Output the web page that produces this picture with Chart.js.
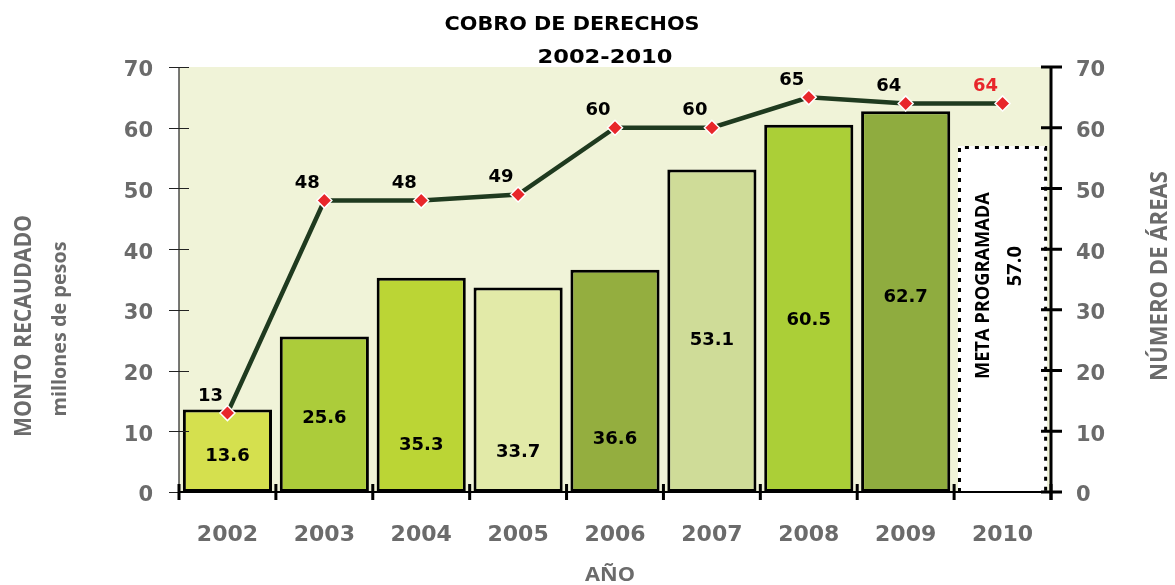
<!DOCTYPE html>
<html>
<head>
<meta charset="utf-8">
<script src="https://cdn.jsdelivr.net/npm/chart.js@4.4.0/dist/chart.umd.min.js"></script>
<style>
html,body{margin:0;padding:0;background:#fff;}
#wrap{width:1175px;height:585px;position:relative;}
</style>
</head>
<body>
<div id="wrap"><canvas id="c" width="1175" height="585"></canvas></div>
<script>
// ---- data ----
const years = ['2002','2003','2004','2005','2006','2007','2008','2009','2010'];
const montoRecaudado = [13.6, 25.6, 35.3, 33.7, 36.6, 53.1, 60.5, 62.7, 57.0];
const numeroAreas = [13, 48, 48, 49, 60, 60, 65, 64, 64];
const yTicks = [0, 10, 20, 30, 40, 50, 60, 70];
const titleLines = ['COBRO DE DERECHOS', '2002-2010'];
const metaText = 'META PROGRAMADA';

// ---- styles ----
const barColors = ['#D5E04E','#ACCC3A','#BBD535','#E2EAA8','#94AE3F','#CFDC98','#ABCF37','#8FAC3F','#FFFFFF'];
const barLabelHeight = [5.8, 12.2, 7.7, 6.6, 8.6, 25, 28.3, 32, null]; // label anchor in data units
const GRAY = '#6B6B6B';

function fitText(ctx, text, x, y, targetW, font, color, rot) {
  ctx.save();
  ctx.font = font;
  ctx.fillStyle = color;
  ctx.textAlign = 'center';
  ctx.textBaseline = 'middle';
  const w = ctx.measureText(text).width;
  ctx.translate(x, y);
  if (rot) ctx.rotate(rot);
  ctx.scale(targetW / w, 1);
  ctx.fillText(text, 0, 0);
  ctx.restore();
}

const decor = {
  id: 'decor',
  beforeDatasetsDraw(chart) {
    const {ctx, chartArea: a} = chart;
    ctx.save();
    ctx.fillStyle = '#F0F3D8';
    ctx.fillRect(a.left, a.top, a.right - a.left, a.bottom - a.top);
    ctx.restore();
  },
  afterDatasetsDraw(chart) {
    const {ctx, chartArea: a, scales} = chart;
    const ys = scales.y, xs = scales.x;
    // dashed border for 2010 bar
    const barMeta = chart.getDatasetMeta(1);
    const el = barMeta.data[8];
    ctx.save();
    ctx.strokeStyle = '#000';
    ctx.lineWidth = 3;
    ctx.setLineDash([4, 6]);
    const l = el.x - el.width / 2 + 1.5, r = el.x + el.width / 2 - 1.5;
    ctx.beginPath();
    ctx.moveTo(l, el.base);
    ctx.lineTo(l, el.y + 1.5);
    ctx.lineTo(r, el.y + 1.5);
    ctx.lineTo(r, el.base);
    ctx.stroke();
    ctx.restore();

    // axes
    ctx.save();
    ctx.strokeStyle = '#222';
    ctx.lineWidth = 1.2;
    ctx.beginPath();
    ctx.moveTo(a.left, a.top); ctx.lineTo(a.left, a.bottom);
    yTicks.forEach(v => { const y = Math.round(ys.getPixelForValue(v)) + 0.5; ctx.moveTo(a.left - 10, y); ctx.lineTo(a.left + 10, y); });
    ctx.stroke();
    ctx.strokeStyle = '#000';
    ctx.lineWidth = 3;
    ctx.beginPath();
    ctx.moveTo(a.right, a.top); ctx.lineTo(a.right, a.bottom + 8);
    yTicks.forEach(v => { const y = ys.getPixelForValue(v); ctx.moveTo(a.right - 10, y); ctx.lineTo(a.right + 11, y); });
    ctx.stroke();
    ctx.lineWidth = 2;
    ctx.beginPath();
    ctx.moveTo(a.left, a.bottom); ctx.lineTo(a.right, a.bottom);
    ctx.stroke();
    ctx.lineWidth = 3;
    ctx.beginPath();
    for (let i = 0; i <= years.length; i++) {
      const x = i < years.length ? xs.getPixelForValue(i) - (xs.getPixelForValue(1) - xs.getPixelForValue(0)) / 2 : a.right;
      ctx.moveTo(x, a.bottom - 8); ctx.lineTo(x, a.bottom + 8);
    }
    ctx.stroke();
    ctx.restore();

    // bar labels
    ctx.save();
    ctx.font = 'bold 18px "DejaVu Sans"';
    ctx.fillStyle = '#000';
    ctx.textAlign = 'center';
    ctx.textBaseline = 'middle';
    barMeta.data.forEach((b, i) => {
      if (barLabelHeight[i] == null) return;
      ctx.fillText(montoRecaudado[i].toFixed(1), b.x, ys.getPixelForValue(barLabelHeight[i]));
    });
    ctx.restore();
    const b10 = barMeta.data[8];
    fitText(ctx, metaText, b10.x - 19, ys.getPixelForValue(34), 187, 'bold 20px "Open Sans"', '#000', -Math.PI / 2);
    fitText(ctx, montoRecaudado[8].toFixed(1), b10.x + 13, ys.getPixelForValue(37.2), 40, 'bold 20px "Open Sans"', '#000', -Math.PI / 2);

    // line labels
    const lineMeta = chart.getDatasetMeta(0);
    ctx.save();
    ctx.font = 'bold 18px "DejaVu Sans"';
    ctx.textAlign = 'center';
    ctx.textBaseline = 'middle';
    lineMeta.data.forEach((p, i) => {
      ctx.fillStyle = i === years.length - 1 ? '#E8262B' : '#000';
      ctx.fillText(String(numeroAreas[i]), p.x - 17, p.y - 17);
    });
    ctx.restore();
  },
  afterDraw(chart) {
    const {ctx} = chart;
    fitText(ctx, titleLines[0], 572, 25, 255, 'bold 20px "DejaVu Sans"', '#000');
    fitText(ctx, titleLines[1], 605, 58, 135, 'bold 20px "DejaVu Sans"', '#000');
    fitText(ctx, 'MONTO RECAUDADO', 24, 326, 222, 'bold 24px "Open Sans"', GRAY, -Math.PI / 2);
    fitText(ctx, 'millones de pesos', 60, 329, 175, 'bold 20px "Open Sans"', GRAY, -Math.PI / 2);
    fitText(ctx, 'NÚMERO DE ÁREAS', 1160, 276, 210, 'bold 23px "Open Sans"', GRAY, -Math.PI / 2);
    fitText(ctx, 'AÑO', 610, 575, 50, 'bold 20px "Open Sans"', GRAY);
  }
};

const ctx = document.getElementById('c').getContext('2d');
new Chart(ctx, {
  data: {
    labels: years,
    datasets: [
      {
        type: 'line',
        data: numeroAreas,
        yAxisID: 'y1',
        order: 0,
        borderColor: '#1F3A1F',
        borderWidth: 4.5,
        pointStyle: 'rectRot',
        pointRadius: 7.5,
        pointBackgroundColor: '#E8262B',
        pointBorderColor: '#FFFFFF',
        pointBorderWidth: 1.5,
        tension: 0,
        fill: false
      },
      {
        type: 'bar',
        data: montoRecaudado,
        yAxisID: 'y',
        order: 1,
        backgroundColor: barColors,
        borderColor: '#000',
        borderWidth: years.map((_, i) => i === years.length - 1 ? 0 : 3),
        borderSkipped: false,
        barPercentage: 0.92,
        categoryPercentage: 1.0
      }
    ]
  },
  options: {
    responsive: false,
    animation: false,
    devicePixelRatio: 1,
    layout: { padding: { top: 67, left: 0, right: 0, bottom: 0 } },
    plugins: { legend: { display: false }, tooltip: { enabled: false }, title: { display: false } },
    scales: {
      x: {
        grid: { display: false, drawTicks: false },
        border: { display: false },
        ticks: { color: GRAY, font: { family: 'DejaVu Sans', weight: 'bold', size: 22 }, padding: 30, maxRotation: 0 },
        afterFit: s => { s.height = 93; }
      },
      y: {
        position: 'left',
        min: 0, max: 70,
        grid: { display: false, drawTicks: false },
        border: { display: false },
        ticks: { stepSize: 10, color: GRAY, font: { family: 'DejaVu Sans', weight: 'bold', size: 21 }, padding: 26, labelOffset: 4 },
        afterFit: s => { s.width = 179; }
      },
      y1: {
        position: 'right',
        min: 0, max: 70,
        grid: { display: false, drawTicks: false },
        border: { display: false },
        ticks: { stepSize: 10, color: GRAY, font: { family: 'DejaVu Sans', weight: 'bold', size: 21 }, padding: 25, labelOffset: 4 },
        afterFit: s => { s.width = 124; }
      }
    }
  },
  plugins: [decor]
});
</script>
</body>
</html>
